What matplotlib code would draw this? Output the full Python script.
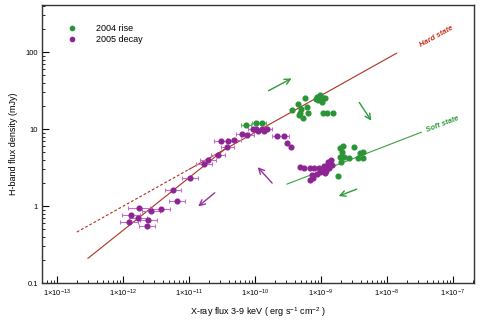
import numpy as np
import matplotlib
matplotlib.use("Agg")
import matplotlib.pyplot as plt
from matplotlib.ticker import FixedLocator, LogLocator, NullFormatter

plt.rcParams['font.family'] = ['Liberation Sans', 'DejaVu Sans']
plt.rcParams['mathtext.default'] = 'regular'

# 2004 rise (green)
rise_x = [7.3e-11, 1.03e-10, 1.28e-10, 3.6e-10, 4.5e-10, 5.7e-10, 5.0e-10, 6.1e-10, 4.8e-10,
          6.4e-10, 4.6e-10, 5.3e-10, 8.7e-10, 9.7e-10, 1.07e-9, 9.0e-10, 1.15e-9, 1.04e-9,
          8.5e-10, 1.07e-9, 1.23e-9, 1.52e-9,
          1.94e-9, 2.15e-9, 3.2e-9, 2.08e-9, 2.23e-9, 1.94e-9, 2.65e-9, 3.9e-9, 4.3e-9,
          3.6e-9, 4.3e-9, 2.0e-9, 1.81e-9]
rise_y = [11.3, 12.0, 12.0, 17.7, 21.1, 25.3, 18.2, 19.3, 16.1,
          16.1, 15.2, 13.9, 26.0, 27.7, 25.3, 23.8, 25.3, 22.4,
          24.6, 16.1, 16.1, 16.1,
          5.7, 6.0, 5.8, 5.0, 4.3, 4.3, 4.2, 4.9, 5.0,
          4.2, 4.2, 3.7, 2.45]
rise_xerr = [0.08, 0.06, 0.06] + [0] * 32

# 2005 decay (purple)
decay_x = [2.75e-11, 3.05e-11, 3.9e-11, 4.8e-11, 3.8e-11, 6.4e-11, 7.6e-11, 9.3e-11, 1.11e-10,
           1.28e-10, 1.52e-10, 1.37e-10, 1.03e-10, 2.15e-10, 2.75e-10, 3.05e-10, 3.5e-10,
           1.94e-11, 1.69e-11, 1.03e-11, 5.7e-12, 6.6e-12, 1.75e-12, 2.65e-12, 3.8e-12,
           1.32e-12, 1.69e-12, 2.4e-12, 1.23e-12, 2.3e-12,
           4.8e-10, 5.5e-10, 6.8e-10, 7.8e-10, 9.3e-10, 1.11e-9, 1.28e-9, 1.37e-9, 1.47e-9,
           1.23e-9, 1.19e-9, 1.04e-9, 8.7e-10, 7.3e-10, 7.5e-10, 6.8e-10, 1.15e-9, 1.32e-9,
           1.42e-9, 9.7e-10]
decay_y = [4.6, 7.0, 7.0, 7.2, 5.8, 8.6, 8.4, 10.0, 9.4,
           10.0, 10.0, 9.4, 10.0, 8.1, 8.1, 6.6, 5.8,
           3.96, 3.5, 2.31, 1.61, 1.16, 0.94, 0.86, 0.91,
           0.76, 0.70, 0.66, 0.62, 0.55,
           3.2, 3.1, 3.1, 3.1, 3.1, 3.3, 3.7, 3.6, 3.4,
           3.2, 2.9, 2.9, 2.6, 2.5, 2.3, 2.2, 2.7, 3.1,
           4.0, 2.8]
decay_xerr = [0.1, 0.1, 0.1, 0.1, 0.1, 0.1, 0.1, 0.08, 0.08,
              0.08, 0.08, 0, 0, 0.08, 0.08, 0, 0,
              0.12, 0.12, 0.12, 0.12, 0.12, 0.16, 0.14, 0.14,
              0.13, 0.13, 0.13, 0.13, 0.12] + [0] * 20

# reference lines
hard_dash_x = [2.0e-13, 1.0e-11]
hard_dash_y = [0.46, 3.0]
hard_x = [1.0e-11, 1.4e-8]
hard_y = [3.0, 97]
fit_x = [2.95e-13, 3.5e-11]
fit_y = [0.21, 5.5]
soft_x = [3.05e-10, 3.3e-8]
soft_y = [1.93, 9.1]

# arrows (tail, head)
green_arrows = [((1.47e-10, 30.3), (3.9e-10, 47.4)),
                ((3.6e-9, 23.8), (6.1e-9, 12.0)),
                ((3.8e-9, 1.71), (1.69e-9, 1.31))]
purple_arrows = [((1.94e-10, 1.87), (1.03e-10, 3.41)),
                 ((2.65e-11, 1.57), (1.28e-11, 0.94))]

green = '#2a9436'
purple = '#8e2494'
red = '#b0301e'

fig = plt.figure(figsize=(4.8, 3.25), dpi=100)
ax = fig.add_axes([0.0875, 0.129, 0.9, 0.855])


def draw_points(xs, ys, errs, color, ecolor, label):
    xs = np.array(xs)
    ys = np.array(ys)
    errs = np.array(errs)
    m = errs > 0
    lo = xs[m] - xs[m] / 10 ** errs[m]
    hi = xs[m] * 10 ** errs[m] - xs[m]
    ax.errorbar(xs[m], ys[m], xerr=[lo, hi], fmt='none', ecolor=ecolor,
                elinewidth=0.8, capsize=1.5, capthick=0.8, zorder=2)
    ax.plot(xs, ys, 'o', color=color, ms=3.4, mec=color, label=label, zorder=3)


ax.plot(hard_dash_x, hard_dash_y, '--', color=red, lw=0.8, dashes=(2.5, 1.8))
ax.plot(hard_x, hard_y, '-', color=red, lw=0.8)
ax.plot(fit_x, fit_y, '-', color=red, lw=0.8)
ax.plot(soft_x, soft_y, '-', color='#3aa040', lw=0.8)

draw_points(rise_x, rise_y, rise_xerr, green, '#60b468', '2004 rise')
draw_points(decay_x, decay_y, decay_xerr, purple, '#c070c8', '2005 decay')

for (t, h) in green_arrows:
    ax.annotate('', xy=h, xytext=t,
                arrowprops=dict(arrowstyle='->', color='#2e9a3a', lw=1.0))
for (t, h) in purple_arrows:
    ax.annotate('', xy=h, xytext=t,
                arrowprops=dict(arrowstyle='->', color='#9a30a0', lw=1.0))

ax.text(5.7e-8, 157, 'Hard state', color='#c8321e', fontsize=5.5, fontweight='bold',
        style='italic', rotation=29, ha='center', va='center')
ax.text(7.0e-8, 11.6, 'Soft state', color='#2e9a3a', fontsize=5.5, fontweight='bold',
        style='italic', rotation=21, ha='center', va='center')

ax.set_xscale('log')
ax.set_yscale('log')
ax.set_xlim(10 ** -13.227, 10 ** -6.682)
ax.set_ylim(0.1, 10 ** 2.61)

xt = [1e-13, 1e-12, 1e-11, 1e-10, 1e-9, 1e-8, 1e-7]
ax.xaxis.set_major_locator(FixedLocator(xt))
ax.set_xticklabels(['1×10$^{%d}$' % int(round(np.log10(v))) for v in xt])
ax.xaxis.set_minor_locator(LogLocator(base=10, subs=np.arange(2, 10), numticks=20))
ax.xaxis.set_minor_formatter(NullFormatter())
yt = [0.1, 1, 10, 100]
ax.yaxis.set_major_locator(FixedLocator(yt))
ax.set_yticklabels(['0.1', '1', '10', '100'])
ax.yaxis.set_minor_locator(LogLocator(base=10, subs=np.arange(2, 10), numticks=20))
ax.yaxis.set_minor_formatter(NullFormatter())

ax.tick_params(which='both', direction='in', top=False, right=False, labelsize=5.5, pad=3)
ax.tick_params(which='major', length=5, width=0.8)
ax.tick_params(which='minor', length=2.5, width=0.6)
for s in ax.spines.values():
    s.set_linewidth(1.0)
    s.set_color('#333333')

ax.set_xlabel('X-ray flux 3-9 keV ( erg s$^{-1}$ cm$^{-2}$ )', fontsize=6.5, labelpad=5)
ax.set_ylabel('H-band flux density (mJy)', fontsize=6.5, labelpad=5)

leg = ax.legend(loc='upper left', bbox_to_anchor=(0.04, 0.96), frameon=False, fontsize=6.5,
                handlelength=1, handletextpad=2.2, labelspacing=0.15, markerscale=0.9)

fig.savefig('out.png', dpi=100)
